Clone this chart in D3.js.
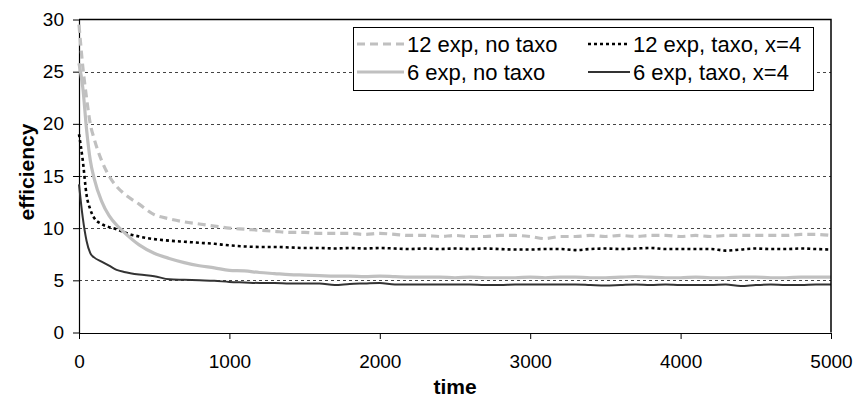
<!DOCTYPE html>
<html>
<head>
<meta charset="utf-8">
<script src="https://cdn.jsdelivr.net/npm/d3@7"></script>
<style>
  html, body { margin: 0; padding: 0; background: #fff; }
  svg { display: block; font-family: "Liberation Sans", Arial, sans-serif; }
</style>
</head>
<body>
<svg id="chart" width="856" height="399"></svg>
<script>
// Sample times (simulation steps)
const times = [0, 25, 50, 75, 100, 150, 200, 250, 300, 400, 500, 600, 700, 800, 900, 1000,
  1100, 1200, 1300, 1400, 1500, 1600, 1700, 1800, 1900, 2000,
  2100, 2200, 2300, 2400, 2500, 2600, 2700, 2800, 2900, 3000,
  3100, 3200, 3300, 3400, 3500, 3600, 3700, 3800, 3900, 4000,
  4100, 4200, 4300, 4400, 4500, 4600, 4700, 4800, 4900, 5000];

// 12 experts, no taxonomy
const exp12NoTaxo = [29.5, 25.5, 22.5, 20.0, 18.6, 16.5, 15.0, 14.0, 13.3, 12.3, 11.3, 10.9, 10.6, 10.4, 10.2, 10.0,
  9.9, 9.8, 9.7, 9.6, 9.6, 9.5, 9.5, 9.5, 9.4, 9.5,
  9.4, 9.3, 9.3, 9.2, 9.3, 9.2, 9.2, 9.3, 9.3, 9.2,
  9.0, 9.2, 9.2, 9.3, 9.2, 9.3, 9.2, 9.3, 9.3, 9.2,
  9.3, 9.2, 9.3, 9.3, 9.3, 9.3, 9.3, 9.4, 9.4, 9.3];

// 12 experts, taxonomy, x=4
const exp12Taxo = [19.0, 16.5, 13.2, 11.8, 11.0, 10.4, 10.1, 9.9, 9.6, 9.2, 8.95, 8.8, 8.7, 8.6, 8.5, 8.35,
  8.25, 8.2, 8.2, 8.15, 8.1, 8.1, 8.05, 8.1, 8.05, 8.1,
  8.05, 8.0, 8.05, 8.0, 8.05, 8.0, 8.05, 8.0, 7.95, 7.95,
  8.0, 8.0, 7.9, 8.0, 8.05, 8.0, 8.05, 8.1, 8.0, 8.0,
  8.0, 8.0, 7.85, 7.95, 8.05, 8.0, 8.0, 8.05, 8.0, 7.95];

// 6 experts, no taxonomy
const exp6NoTaxo = [25.8, 23.5, 19.5, 16.5, 14.8, 12.6, 11.2, 10.3, 9.6, 8.4, 7.6, 7.1, 6.7, 6.4, 6.2, 5.95,
  5.9, 5.75, 5.65, 5.55, 5.5, 5.45, 5.4, 5.4, 5.35, 5.4,
  5.35, 5.3, 5.3, 5.3, 5.25, 5.3, 5.25, 5.25, 5.25, 5.3,
  5.25, 5.3, 5.3, 5.25, 5.25, 5.3, 5.35, 5.3, 5.25, 5.25,
  5.3, 5.25, 5.25, 5.3, 5.3, 5.25, 5.25, 5.3, 5.3, 5.3];

// 6 experts, taxonomy, x=4
const exp6Taxo = [14.2, 11.0, 8.8, 7.6, 7.2, 6.8, 6.4, 6.0, 5.8, 5.55, 5.4, 5.1, 5.05, 5.0, 4.95, 4.85,
  4.8, 4.75, 4.75, 4.7, 4.7, 4.7, 4.55, 4.65, 4.7, 4.75,
  4.6, 4.6, 4.6, 4.6, 4.6, 4.6, 4.55, 4.55, 4.6, 4.6,
  4.6, 4.6, 4.6, 4.55, 4.5, 4.55, 4.6, 4.55, 4.6, 4.55,
  4.55, 4.55, 4.6, 4.45, 4.55, 4.6, 4.55, 4.55, 4.6, 4.6];

const xTicks = [0, 1000, 2000, 3000, 4000, 5000];
const yTicks = [0, 5, 10, 15, 20, 25, 30];
const seriesNames = ["12 exp, no taxo", "12 exp, taxo, x=4", "6 exp, no taxo", "6 exp, taxo, x=4"];

const styles = [
  { color: "#c0c0c0", width: 3.2, dash: "8,5" },
  { color: "#000000", width: 2.6, dash: "3,3" },
  { color: "#c0c0c0", width: 3.2, dash: null },
  { color: "#333333", width: 2, dash: null }
];

const series = [exp12NoTaxo, exp12Taxo, exp6NoTaxo, exp6Taxo].map((vals, i) => ({
  name: seriesNames[i],
  style: styles[i],
  points: times.map((t, j) => ({ t, v: vals[j] }))
}));

const svg = d3.select("#chart");
const plot = { left: 79, right: 831, top: 19.5, bottom: 332.5 };

const x = d3.scaleLinear().domain([0, 5000]).range([plot.left, plot.right]);
const y = d3.scaleLinear().domain([0, 30]).range([plot.bottom, plot.top]);

// Horizontal dashed gridlines
svg.append("g")
  .selectAll("line")
  .data(yTicks.filter(d => d > 0 && d < 30))
  .join("line")
  .attr("x1", plot.left).attr("x2", plot.right)
  .attr("y1", d => Math.round(y(d)) + 0.5).attr("y2", d => Math.round(y(d)) + 0.5)
  .attr("stroke", "#444")
  .attr("stroke-width", 1)
  .attr("stroke-dasharray", "3,3");

// Axes
const xAxis = svg.append("g")
  .attr("transform", `translate(0,${Math.round(plot.bottom)})`)
  .call(d3.axisBottom(x).tickValues(xTicks).tickFormat(d3.format("d"))
    .tickSize(6).tickSizeOuter(0).tickPadding(16));
const yAxis = svg.append("g")
  .attr("transform", `translate(${plot.left},0)`)
  .call(d3.axisLeft(y).tickValues(yTicks).tickFormat(d3.format("d"))
    .tickSize(6).tickSizeOuter(0).tickPadding(9));

[xAxis, yAxis].forEach(g => {
  g.attr("font-size", null).attr("font-family", null);
  g.select(".domain").attr("stroke", "#000").attr("stroke-width", 1.2);
  g.selectAll(".tick line").attr("stroke", "#000");
  g.selectAll(".tick text")
    .attr("fill", "#000")
    .style("font-family", "'Liberation Sans', Arial, sans-serif")
    .style("font-size", "19px");
});

// Series lines
const line = d3.line()
  .x(d => x(d.t))
  .y(d => y(d.v))
  .curve(d3.curveMonotoneX);

svg.append("g")
  .selectAll("path")
  .data(series)
  .join("path")
  .attr("d", d => line(d.points))
  .attr("fill", "none")
  .attr("stroke", d => d.style.color)
  .attr("stroke-width", d => d.style.width)
  .attr("stroke-dasharray", d => d.style.dash)
  .attr("stroke-linejoin", "round");

// Plot frame: top and right edges
svg.append("path")
  .attr("d", `M${x(0)},${y(30)}H${x(5000)}V${y(0)}`)
  .attr("fill", "none")
  .attr("stroke", "#000")
  .attr("stroke-width", 1.5);

// Axis titles
svg.append("text")
  .attr("x", (plot.left + plot.right) / 2)
  .attr("y", 394)
  .attr("text-anchor", "middle")
  .style("font-size", "21px")
  .style("font-weight", "bold")
  .text("time");

svg.append("text")
  .attr("transform", `translate(34,172) rotate(-90)`)
  .attr("text-anchor", "middle")
  .style("font-size", "21px")
  .style("font-weight", "bold")
  .text("efficiency");

// Legend
const legend = svg.append("g");
legend.append("rect")
  .attr("x", 353.5).attr("y", 27.5)
  .attr("width", 460).attr("height", 63)
  .attr("fill", "#fff")
  .attr("stroke", "#000");

const legendPos = [
  { sx: 357, tx: 407, ty: 44 },
  { sx: 588, tx: 633, ty: 44 },
  { sx: 357, tx: 407, ty: 72 },
  { sx: 588, tx: 633, ty: 72 }
];

series.forEach((s, i) => {
  const p = legendPos[i];
  legend.append("line")
    .attr("x1", p.sx).attr("x2", p.tx - 3)
    .attr("y1", p.ty).attr("y2", p.ty)
    .attr("stroke", s.style.color)
    .attr("stroke-width", s.style.width)
    .attr("stroke-dasharray", s.style.dash);
  legend.append("text")
    .attr("x", p.tx).attr("y", p.ty)
    .attr("dy", "0.35em")
    .style("font-size", "22px")
    .text(s.name);
});
</script>
</body>
</html>
